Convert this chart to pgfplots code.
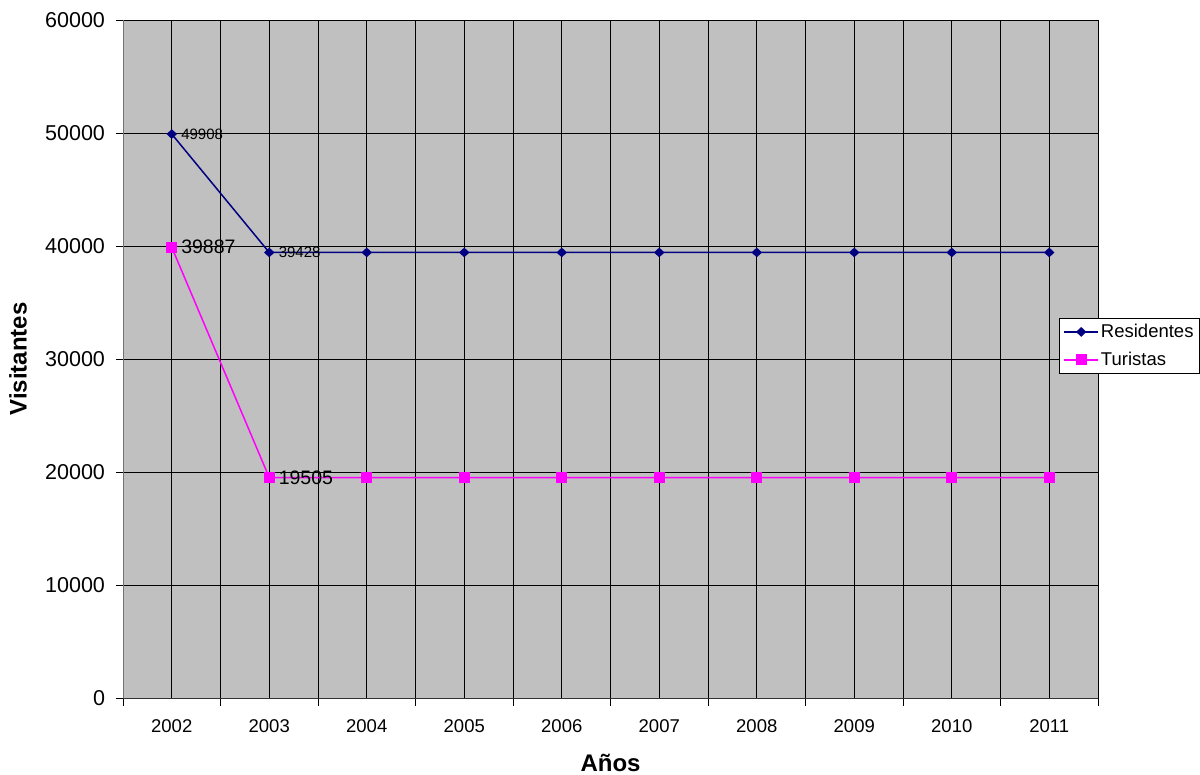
\documentclass[border=0pt]{standalone}
\usepackage{fontspec}
\setmainfont{Liberation Sans}
\usepackage{pgfplots}
\pgfplotsset{compat=1.18}
\definecolor{resid}{HTML}{000080}
\definecolor{turis}{HTML}{FF00FF}
\definecolor{plotbg}{HTML}{C0C0C0}
\begin{document}
\begin{tikzpicture}
\useasboundingbox (0,0) rectangle (1200pt,-775pt);
\begin{axis}[
  at={(123pt,-698pt)}, anchor=south west,
  scale only axis, width=975pt, height=678pt,
  xmin=-0.5, xmax=9.5, ymin=0, ymax=60000,
  axis background/.style={fill=plotbg},
  axis x line*=bottom, axis y line*=left,
  axis line style={-, line width=1pt},
  y axis line style={draw=black!55},
  x axis line style={draw=black!80},
  xtick={-0.5,0.5,...,9.5}, xticklabels={},
  extra x ticks={0,...,9},
  extra x tick labels={2002,2003,2004,2005,2006,2007,2008,2009,2010,2011},
  extra x tick style={major tick length=0pt, grid=major},
  ytick={0,10000,...,60000},
  grid=major,
  major grid style={black, line width=0.9pt},
  tick align=outside,
  major tick length=7.5pt,
  tick style={black, line width=0.9pt},
  scaled y ticks=false,
  /pgf/number format/set thousands separator={},
  /pgf/number format/assume math mode=true,
  yticklabel style={font=\fontsize{21.5}{24}\selectfont, xshift=-7pt},
  xticklabel style={font=\fontsize{18.5}{22}\selectfont, yshift=-18pt},
  xlabel={\textbf{Años}},
  ylabel={\textbf{Visitantes}},
  xlabel style={font=\fontsize{24}{28}\selectfont, at={(axis description cs:0.5,-0.0958)}, anchor=center, inner sep=0pt},
  ylabel style={font=\fontsize{24}{28}\selectfont, at={(axis description cs:-0.1077,0.5)}, anchor=center, inner sep=0pt},
  legend style={at={(axis description cs:0.96,0.5605)}, anchor=north west,
    draw=black, line width=0.9pt, fill=white, font=\fontsize{18.5}{22}\selectfont,
    inner sep=4pt, row sep=9pt, cells={anchor=west}},
  legend image code/.code={%
    \draw[mark repeat=2, mark phase=2] plot coordinates {(0pt,0pt) (17pt,0pt) (34pt,0pt)};},
  clip=false,
]
\addplot[color=resid, line width=1.5pt, mark=diamond*, mark size=5.5pt, mark options={fill=resid, yscale=0.7}]
  coordinates {(0,49908) (1,39428) (2,39428) (3,39428) (4,39428) (5,39428) (6,39428) (7,39428) (8,39428) (9,39428)};
\addlegendentry{Residentes}
\addplot[color=turis, line width=1.5pt, mark=square*, mark size=4.8pt, mark options={fill=turis}]
  coordinates {(0,39887) (1,19505) (2,19505) (3,19505) (4,19505) (5,19505) (6,19505) (7,19505) (8,19505) (9,19505)};
\addlegendentry{Turistas}
\node[anchor=west, font=\fontsize{15}{17}\selectfont, xshift=6pt] at (axis cs:0,49908) {49908};
\node[anchor=west, font=\fontsize{15}{17}\selectfont, xshift=6pt] at (axis cs:1,39428) {39428};
\node[anchor=west, font=\fontsize{19.5}{22}\selectfont, xshift=6pt] at (axis cs:0,39887) {39887};
\node[anchor=west, font=\fontsize{19.5}{22}\selectfont, xshift=6pt] at (axis cs:1,19505) {19505};
\end{axis}
\end{tikzpicture}
\end{document}
